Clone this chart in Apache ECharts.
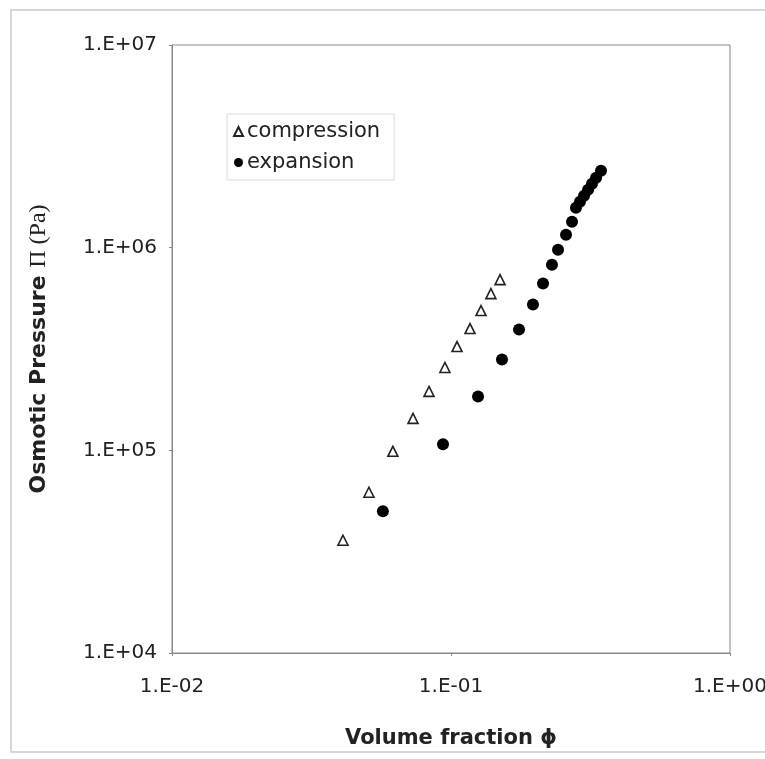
<!DOCTYPE html>
<html>
<head>
<meta charset="utf-8">
<script src="https://cdn.jsdelivr.net/npm/echarts@6/dist/echarts.min.js"></script>
<style>
  html, body { margin: 0; padding: 0; background: #fff; }
  #osmo { width: 765px; height: 759px; }
</style>
</head>
<body>
<div id="osmo"></div>
<script>
// volume fraction / osmotic pressure
var compPhi = [0.0410, 0.0508, 0.0619, 0.0731, 0.0834, 0.0951, 0.1051, 0.1170, 0.1281, 0.1390, 0.1499];
var compPi  = [36000, 62100, 98900, 143800, 195300, 256400, 325200, 399000, 489500, 593300, 695700];

var expPhi = [0.0570, 0.0936, 0.1250, 0.1523, 0.1753, 0.1967, 0.2137, 0.2301, 0.2419, 0.2584, 0.2715,
              0.2805, 0.2899, 0.2999, 0.3099, 0.3202, 0.3311, 0.3449];
var expPi  = [50100, 107100, 184500, 280700, 394500, 523900, 665000, 824500, 977500, 1158000, 1343000,
              1574000, 1685000, 1804000, 1931000, 2067000, 2213000, 2394000];

var seriesNames = ['compression', 'expansion'];

function pairUp(xs, ys) {
  var out = [];
  for (let i = 0; i < xs.length; i++) {
    out.push([xs[i], ys[i]]);
  }
  return out;
}

// 1.E-02 style labels
function sciLabel(v) {
  var e = Math.round(Math.log10(v));
  var s = Math.abs(e) < 10 ? '0' + Math.abs(e) : '' + Math.abs(e);
  return '1.E' + (e < 0 ? '-' : '+') + s;
}

var chartDom = document.getElementById('osmo');
var myChart = echarts.init(chartDom, null, { renderer: 'canvas' });
var font = 'DejaVu Sans';

var option = {
  animation: false,
  backgroundColor: '#fff',
  graphic: [{
    type: 'rect',
    shape: { x: 11, y: 10, width: 770, height: 742 },
    style: { fill: 'none', stroke: '#d8d8d8', lineWidth: 2 },
    z: -1
  }],
  grid: {
    left: 172,
    right: 35,
    top: 45,
    bottom: 106,
    outerBoundsMode: 'none',
    show: true,
    borderColor: '#888',
    borderWidth: 1
  },
  legend: {
    orient: 'vertical',
    left: 227,
    top: 114,
    padding: [7, 14, 7, 6],
    itemGap: 10,
    itemWidth: 9,
    itemHeight: 9,
    backgroundColor: '#fff',
    borderColor: '#ddd',
    borderWidth: 1,
    textStyle: { fontFamily: font, fontSize: 21, color: '#222', padding: [0, 0, 0, -1] },
    data: seriesNames
  },
  xAxis: {
    type: 'log',
    logBase: 10,
    min: 0.01,
    max: 1,
    name: 'Volume fraction ϕ',
    nameLocation: 'middle',
    nameGap: 75,
    nameTextStyle: { fontFamily: font, fontSize: 21, fontWeight: 'bold', color: '#222' },
    axisLine: { lineStyle: { color: '#888' } },
    axisTick: { length: 3, lineStyle: { color: '#888' } },
    splitLine: { show: false },
    minorTick: { show: false },
    axisLabel: {
      formatter: sciLabel,
      margin: 24,
      fontFamily: font,
      fontSize: 20,
      color: '#222'
    }
  },
  yAxis: {
    type: 'log',
    logBase: 10,
    min: 10000,
    max: 10000000,
    name: '{a|Osmotic Pressure }{b|Π (Pa)}',
    nameLocation: 'middle',
    nameGap: 121,
    nameRotate: 90,
    nameTextStyle: {
      rich: {
        a: { fontFamily: font, fontSize: 22, fontWeight: 'bold', color: '#222' },
        b: { fontFamily: 'Liberation Serif', fontSize: 24, color: '#222' }
      }
    },
    axisLine: { lineStyle: { color: '#888' } },
    axisTick: { length: 3, lineStyle: { color: '#888' } },
    splitLine: { show: false },
    axisLabel: {
      formatter: sciLabel,
      margin: 15,
      fontFamily: font,
      fontSize: 20,
      color: '#222'
    }
  },
  series: [
    {
      name: seriesNames[0],
      type: 'scatter',
      symbol: 'triangle',
      symbolSize: 10,
      itemStyle: { color: '#fff', borderColor: '#222', borderWidth: 1.6, opacity: 1 },
      data: pairUp(compPhi, compPi)
    },
    {
      name: seriesNames[1],
      type: 'scatter',
      symbol: 'circle',
      symbolSize: 12,
      itemStyle: { color: '#000', opacity: 1 },
      data: pairUp(expPhi, expPi)
    }
  ]
};

option && myChart.setOption(option);
</script>
</body>
</html>
